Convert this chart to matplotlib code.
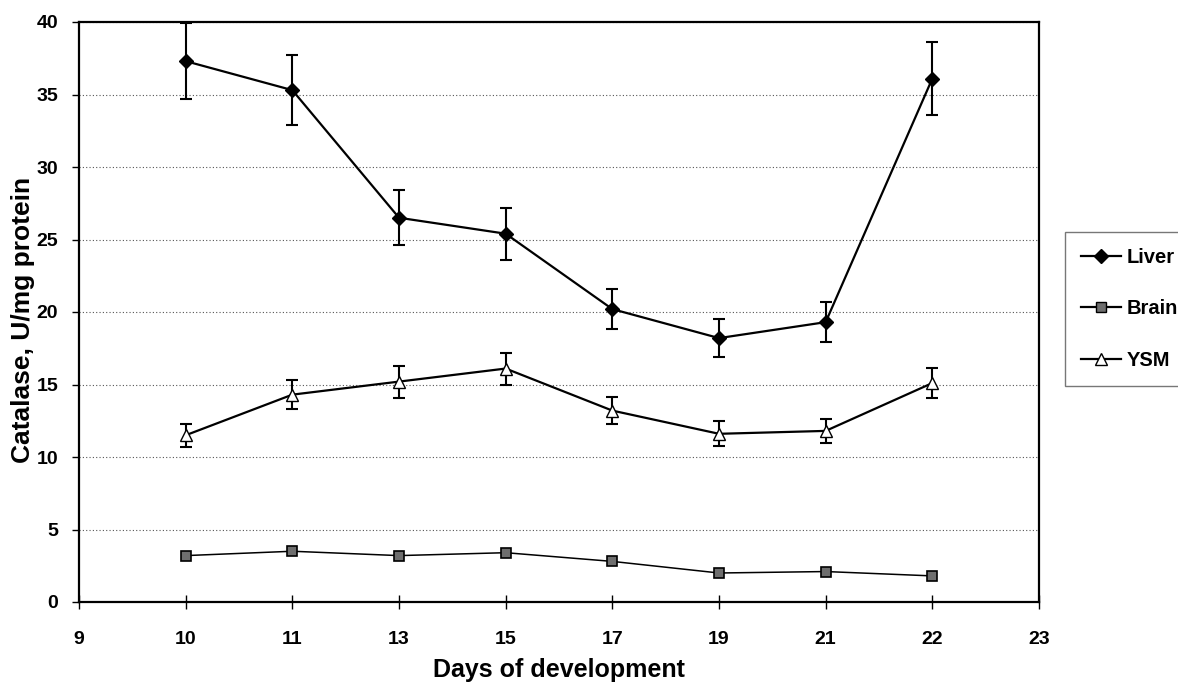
import numpy as np
import matplotlib.pyplot as plt
import matplotlib
from matplotlib.lines import Line2D

matplotlib.rcParams["font.family"] = ["Liberation Sans", "DejaVu Sans"]
matplotlib.rcParams["font.weight"] = "bold"

# days (categorical positions, equally spaced as in the original)
days = ["9", "10", "11", "13", "15", "17", "19", "21", "22", "23"]

liver = [37.3, 35.3, 26.5, 25.4, 20.2, 18.2, 19.3, 36.1]
liver_err = [2.6, 2.4, 1.9, 1.8, 1.4, 1.3, 1.4, 2.5]

brain = [3.2, 3.5, 3.2, 3.4, 2.8, 2.0, 2.1, 1.8]

ysm = [11.5, 14.3, 15.2, 16.1, 13.2, 11.6, 11.8, 15.1]
ysm_err = [0.8, 1.0, 1.1, 1.1, 0.95, 0.85, 0.85, 1.05]

x = np.arange(1, 9)

fig = plt.figure(figsize=(11.78, 6.89), dpi=100)
ax = fig.add_axes([79/1178, 1-602/689, (1039-79)/1178, (602-22)/689])

ax.errorbar(x, liver, yerr=liver_err, color="black", lw=1.6, marker="D", ms=7,
            capsize=4, elinewidth=1.5, capthick=1.5)
ax.plot(x, brain, color="black", lw=1.1, marker="s", ms=7, mfc="#6e6e6e",
        mec="black", mew=1.2)
ax.errorbar(x, ysm, yerr=ysm_err, color="black", lw=1.6, marker="^", ms=8,
            mfc="white", capsize=4, elinewidth=1.5, capthick=1.5)

ax.set_xlim(0, 9)
ax.set_ylim(0, 40)
ax.set_xticks(np.arange(len(days)))
ax.set_xticklabels(days)
ax.set_yticks(np.arange(0, 41, 5))
ax.tick_params(labelsize=14)
ax.tick_params(axis="x", length=10, width=1, direction="inout", pad=16)
ax.tick_params(axis="y", length=5, width=1, direction="out", pad=10)
ax.yaxis.grid(True, linestyle=(0, (1, 2)), color="#555555", lw=0.8)
for s in ax.spines.values():
    s.set_linewidth(1.6)

ax.set_xlabel("Days of development", fontsize=18, fontweight="bold", labelpad=7)
fig.text(23/1178, 1-320/689, "Catalase, U/mg protein", rotation=90,
         ha="center", va="center", fontsize=19, fontweight="bold")

handles = [
    Line2D([], [], color="black", lw=1.6, marker="D", ms=7),
    Line2D([], [], color="black", lw=1.6, marker="s", ms=7, mfc="#6e6e6e"),
    Line2D([], [], color="black", lw=1.6, marker="^", ms=8, mfc="white"),
]
leg = fig.legend(handles, ["Liver", "Brain", "YSM"], loc="upper left",
                 bbox_to_anchor=(1065/1178, 1-232/689),
                 frameon=True, fancybox=False, edgecolor="#555555", fontsize=14.5,
                 handlelength=2.0, labelspacing=1.6, borderpad=0.8,
                 handletextpad=0.25, borderaxespad=0)
leg.get_frame().set_linewidth(1.0)

fig.savefig("out.png", dpi=100)
